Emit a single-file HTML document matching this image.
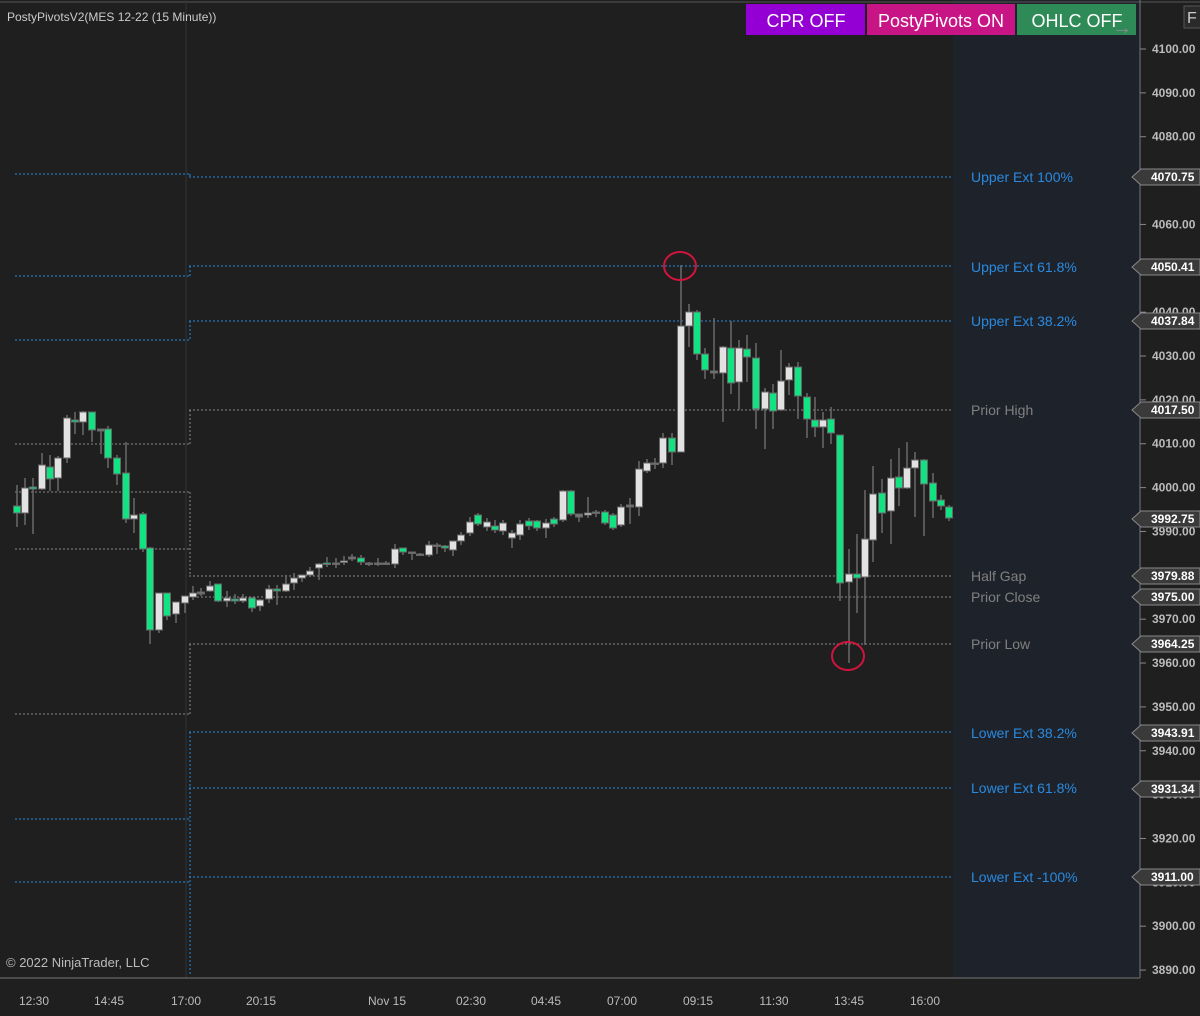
<!DOCTYPE html>
<html><head><meta charset="utf-8"><style>
body{margin:0;background:#1f1f1f;width:1200px;height:1011px;overflow:hidden;font-family:"Liberation Sans",sans-serif}
</style></head><body>
<svg id="s" width="1200" height="1011" xmlns="http://www.w3.org/2000/svg" font-family="Liberation Sans, sans-serif">
<rect width="1200" height="1011" fill="#1f1f1f"/>
<rect x="953" y="0" width="187" height="978" fill="#1e222a"/>
<line x1="0" y1="2" x2="1200" y2="2" stroke="#555"/>
<line x1="186" y1="0" x2="186" y2="978" stroke="#333"/>
<line x1="1140" y1="0" x2="1140" y2="978" stroke="#777"/>
<line x1="0" y1="978" x2="1140" y2="978" stroke="#777"/>
<g id="lines" fill="none" stroke-dasharray="2,2"></g>
<g id="c"></g>
<ellipse cx="680" cy="266" rx="16" ry="14" fill="none" stroke="#d0143c" stroke-width="2"/>
<ellipse cx="848" cy="656" rx="16" ry="14" fill="none" stroke="#d0143c" stroke-width="2"/>
<g font-size="14" fill="#2a8ae0">
<text x="971" y="182">Upper Ext 100%</text>
<text x="971" y="272">Upper Ext 61.8%</text>
<text x="971" y="326">Upper Ext 38.2%</text>
<text x="971" y="738">Lower Ext 38.2%</text>
<text x="971" y="793">Lower Ext 61.8%</text>
<text x="971" y="882">Lower Ext -100%</text>
</g>
<g font-size="14" fill="#808080">
<text x="971" y="415">Prior High</text>
<text x="971" y="581">Half Gap</text>
<text x="971" y="602">Prior Close</text>
<text x="971" y="649">Prior Low</text>
</g>
<g id="ax" font-size="12" fill="#bbb" font-weight="bold"></g>
<g id="tags"></g>
<g font-size="12" fill="#bbb" text-anchor="middle">
<text x="34" y="1005">12:30</text><text x="109" y="1005">14:45</text><text x="186" y="1005">17:00</text><text x="261" y="1005">20:15</text><text x="387" y="1005">Nov 15</text><text x="471" y="1005">02:30</text><text x="546" y="1005">04:45</text><text x="622" y="1005">07:00</text><text x="698" y="1005">09:15</text><text x="774" y="1005">11:30</text><text x="849" y="1005">13:45</text><text x="925" y="1005">16:00</text>
</g>
<text x="7" y="21" font-size="12" fill="#ccc">PostyPivotsV2(MES 12-22 (15 Minute))</text>
<text x="6" y="967" font-size="13" fill="#bbb">© 2022 NinjaTrader, LLC</text>
<rect x="746" y="4" width="119" height="31" fill="#9400d3"/>
<rect x="867" y="4" width="148" height="31" fill="#c71585"/>
<rect x="1017" y="4" width="119" height="31" fill="#2e8b57"/>
<g font-size="18" fill="#fff" text-anchor="middle">
<text x="806" y="27">CPR OFF</text><text x="941" y="27">PostyPivots ON</text><text x="1077" y="27">OHLC OFF</text>
</g>
<text x="1112" y="34" font-size="20" fill="#888">→</text>
<rect x="1184" y="6" width="18" height="22" fill="#2a2a2a" stroke="#555"/>
<text x="1187" y="23" font-size="16" fill="#ccc">F</text>
</svg>
<script>
const NS="http://www.w3.org/2000/svg";
function el(p,t,a,txt){const e=document.createElementNS(NS,t);for(const k in a)e.setAttribute(k,a[k]);if(txt!=null)e.textContent=txt;p.appendChild(e);return e;}
const L=document.getElementById('lines');
const B="#2a8ae0",G="#8a8a8a";
[[15,189,174,B],[189,953,177,B],[15,189,276,B],[189,953,266,B],[15,189,340,B],[189,953,321,B],
[15,189,444,G],[189,953,410,G],[15,189,492,G],[189,953,576,G],[15,189,549,G],[189,953,597,G],[189,953,644,G],[15,189,714,G],
[189,953,732,B],[189,953,788,B],[15,189,819,B],[15,189,882,B],[189,953,877,B]].forEach(a=>el(L,'line',{x1:a[0],x2:a[1],y1:a[2],y2:a[2],stroke:a[3]}));
[[174,177,B],[266,276,B],[321,340,B],[410,444,G],[492,576,G],[644,714,G],[732,976,B],[788,819,B]].forEach(a=>el(L,'line',{x1:190,x2:190,y1:a[0],y2:a[1],stroke:a[2]}));
const d=[[17,'g',506,513,485,527],[25,'w',488,513,478,525],[33,'g',487,489,478,534],[42,'w',465,489,453,490],[50,'g',467,479,455,491],[58,'w',458,478,456,491],[67,'w',418,458,415,463],[75,'g',420,422,412,434],[83,'w',412,422,411,435],[92,'g',412,430,412,442],[101,'n',429,431,429,454],[108,'g',429,458,426,468],[117,'g',458,474,455,485],[126,'g',473,519,442,523],[134,'w',515,519,498,533],[143,'g',514,549,512,552],[150,'g',548,630,547,644],[159,'w',593,630,593,633],[167,'g',593,616,593,620],[176,'w',602,614,602,623],[185,'w',596,603,596,613],[193,'w',593,597,586,600],[201,'n',592,594,588,596],[210,'w',586,591,581,592],[218,'g',584,601,584,602],[227,'w',598,601,591,607],[235,'g',599,601,594,604],[243,'w',598,601,594,603],[252,'g',598,608,597,612],[260,'w',600,606,599,611],[269,'w',589,599,585,603],[277,'g',589,591,585,605],[286,'w',584,591,575,592],[294,'w',578,583,573,590],[302,'w',575,578,575,582],[310,'w',571,575,567,577],[319,'w',564,568,563,580],[327,'g',563,564,557,567],[336,'n',563,564,558,568],[344,'w',561,562,556,565],[352,'n',557,559,554,561],[361,'g',558,562,555,565],[369,'n',563,564,562,566],[378,'n',563,564,558,566],[386,'n',563,564,561,565],[395,'w',549,564,544,568],[403,'g',548,552,548,555],[412,'n',552,553,552,560],[420,'n',554,555,553,556],[429,'w',545,555,541,557],[437,'n',545,546,543,554],[445,'g',546,548,545,552],[453,'w',541,550,541,556],[461,'w',535,541,532,545],[470,'w',522,533,517,536],[478,'g',515,524,513,526],[487,'w',522,527,518,531],[495,'g',526,530,520,533],[503,'w',523,531,520,535],[512,'w',533,538,530,548],[520,'w',524,535,520,540],[529,'g',521,526,518,530],[537,'g',521,528,520,531],[546,'w',523,528,519,538],[554,'g',519,524,517,527],[563,'w',491,520,490,522],[571,'g',491,514,490,516],[579,'n',514,517,514,522],[588,'w',513,515,497,518],[596,'n',512,513,510,517],[605,'g',512,523,510,525],[613,'g',515,528,513,530],[621,'w',507,525,504,527],[630,'n',505,507,498,524],[639,'w',469,507,461,516],[647,'w',463,471,459,473],[655,'n',463,464,458,469],[663,'w',438,463,433,468],[672,'g',438,452,433,465],[681,'w',326,452,265,452],[689,'w',312,326,304,347],[697,'g',312,354,310,360],[705,'g',354,370,348,379],[714,'n',371,373,318,379],[723,'w',347,373,346,422],[731,'g',348,383,321,394],[739,'w',348,382,340,410],[747,'g',349,357,335,382],[756,'g',358,409,343,429],[765,'w',392,409,388,449],[773,'g',393,411,384,429],[781,'w',381,410,350,411],[789,'w',367,380,363,395],[798,'g',367,396,362,419],[807,'g',397,419,393,438],[815,'g',420,427,397,437],[823,'w',420,427,412,448],[831,'g',419,433,407,444],[840,'g',435,583,435,601],[849,'w',574,582,549,663],[857,'g',574,578,534,613],[865,'w',539,577,490,645],[873,'w',494,540,466,562],[882,'g',493,513,479,533],[891,'w',478,511,459,544],[899,'g',477,488,448,506],[907,'w',468,488,442,489],[915,'w',460,468,452,517],[924,'g',460,484,459,536],[933,'g',483,501,473,518],[941,'g',500,506,495,510],[949,'g',507,518,505,521]];
const C=document.getElementById('c');
d.forEach(a=>{const[x,c,t,b,h,l]=a;el(C,'line',{x1:x,x2:x,y1:h,y2:l,stroke:'#6a6a6a','stroke-width':1.5});
el(C,'rect',{x:x-3.5,y:t,width:7,height:Math.max(b-t,1.5),fill:c=='g'?'#12e382':c=='w'?'#e2e2e2':'#777',stroke:'#666','stroke-width':1});});
const A=document.getElementById('ax');
for(let p=4100;p>=3890;p-=10){const y=49+(4100-p)*4.386;el(A,'line',{x1:1140,x2:1146,y1:y,y2:y,stroke:'#888'});el(A,'text',{x:1152,y:y+4},p.toFixed(2));}
const T=document.getElementById('tags');
[[177,'4070.75'],[267,'4050.41'],[321,'4037.84'],[410,'4017.50'],[519,'3992.75'],[576,'3979.88'],[597,'3975.00'],[644,'3964.25'],[733,'3943.91'],[789,'3931.34'],[877,'3911.00']].forEach(a=>{const y=a[0];
el(T,'polygon',{points:`1132,${y} 1141,${y-8} 1200,${y-8} 1200,${y+8} 1141,${y+8}`,fill:'#3a3a3a',stroke:'#888'});
el(T,'text',{x:1151,y:y+4,'font-size':12,'font-weight':'bold',fill:'#fff'},a[1]);});
</script>
</body></html>
